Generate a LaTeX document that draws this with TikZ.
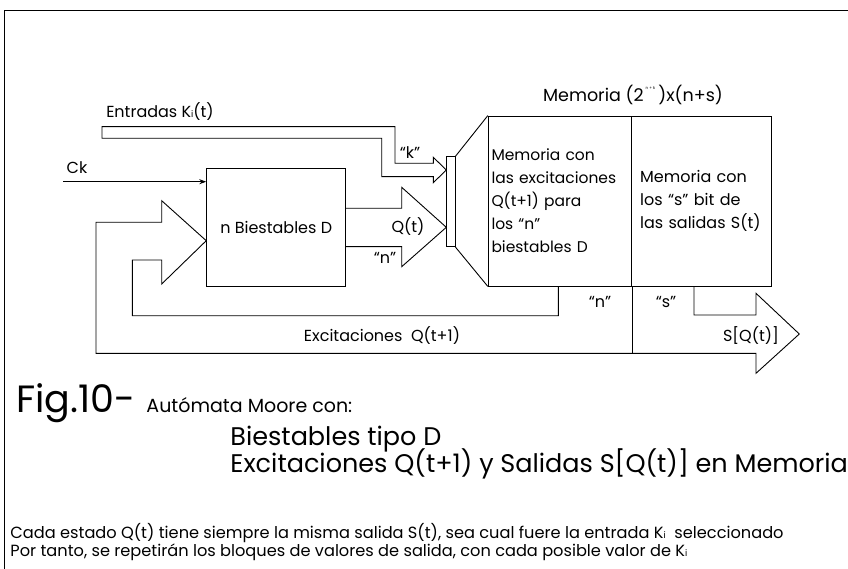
\documentclass[tikz,border=0pt]{standalone}
\usepackage{fontspec}
\setmainfont{Poppins}
\usetikzlibrary{positioning,arrows.meta}

\newcommand{\subi}{{\fontsize{9}{9}\selectfont i}}

\begin{document}
\begin{tikzpicture}[x=1pt,y=-1pt,
  line width=0.9pt,
  every node/.style={font=\fontsize{16}{23}\selectfont, inner sep=0pt},
  blk/.style={rectangle, draw, align=left},
  captxt/.style={anchor=base west, font=\fontsize{25.5}{27}\selectfont},
  notetxt/.style={anchor=base west, font=\fontsize{16.2}{18}\selectfont}
]
\useasboundingbox (0,0) rectangle (848,569);
% marco
\draw (4,569) -- (4,10) -- (848,10);

% biestables y memoria
\node[blk, minimum width=139pt, minimum height=117.7pt] (ff) at (276.2,227.2) {n Biestables D};
\node[blk, minimum width=143.4pt, minimum height=170pt, text width=137pt, font=\fontsize{15.5}{23}\selectfont] (memq) at (560,201) {Memoria con\\las excitaciones\\Q(t+1) para\\los “n”\\biestables D};
\node[blk, minimum width=140pt, minimum height=170pt, text width=123pt] (mems) at (701.7,201) {Memoria con\\los “s” bit de\\las salidas S(t)};
\node[font=\fontsize{17.5}{20}\selectfont] (memtitle) at (633,95) {Memoria (2\raisebox{1.3ex}{\fontsize{4}{4}\selectfont\ \ n + k\ \ \ })x(n+s)};
\node[rectangle, draw, minimum width=8.3pt, minimum height=90pt] (dec) at (450.9,201.7) {};
\draw (dec.north east) -- (memq.north west);
\draw (dec.south east) -- (memq.south west);

% entradas y reloj
\node (ent) at (160,112) {Entradas K\subi(t)};
\draw (102,126.7) -- (395,126.7) -- (395,163.3) -- (433.3,163.3) -- (433.3,157.3)
  -- (dec.west |- 0,170) -- (433.3,182.7) -- (433.3,176.7) -- (381.7,176.7)
  -- (381.7,138.3) -- (102,138.3) -- cycle;
\node (k) at (410,153) {“k”};
\node (ck) at (77,168) {Ck};
\coordinate (ckin) at (63,181.7);
\draw[-{Stealth[length=7pt,width=5pt]}] (ckin) -- (ckin -| ff.west);

% salida Q(t)
\draw (ff.east |- 0,208.3) -- (401.7,208.3) -- (401.7,187.3) -- (dec.west |- 0,227.3)
  -- (401.7,266.7) -- (401.7,246.7) -- (ff.east |- 0,246.7);
\node (qt) at (408,227) {Q(t)};
\node (nq) at (385,258) {“n”};

% realimentacion y salidas
\draw (558.3,286) -- (558.3,315.7) -- (132.3,315.7) -- (132.3,260) -- (161.7,260)
  -- (161.7,284) -- (ff.west |- 0,240.7) -- (161.7,200.7) -- (161.7,222.3) -- (96,222.3)
  -- (96,353.3) -- (756,353.3) -- (756,373.3) -- (799.3,334) -- (756,293.3)
  -- (756,315) -- (694,315) -- (694,286);
\draw (memq.south east) -- (memq.south east |- 0,353.3);
\node (nf) at (600,302) {“n”};
\node (sf) at (666,302) {“s”};
\node (exc) at (382,336) {Excitaciones\ \ Q(t+1)};
\node (sq) at (751,336) {S[Q(t)]};

% pie
\node[captxt, font=\fontsize{38}{38}\selectfont] (fig) at (16,412) {Fig.10-};
\node[captxt, font=\fontsize{19}{20}\selectfont, right=10pt of fig.base east, anchor=base west] (aut) {Autómata Moore con:};
\node[captxt] (bt) at (230,445) {Biestables tipo D};
\node[captxt] (exm) at (230,472) {Excitaciones Q(t+1) y Salidas S[Q(t)] en Memoria};
\node[notetxt] (p1) at (10,538) {Cada estado Q(t) tiene siempre la misma salida S(t), sea cual fuere la entrada K\subi\ \ seleccionado};
\node[notetxt] (p2) at (10,556) {Por tanto, se repetirán los bloques de valores de salida, con cada posible valor de K\subi};
\end{tikzpicture}
\end{document}
